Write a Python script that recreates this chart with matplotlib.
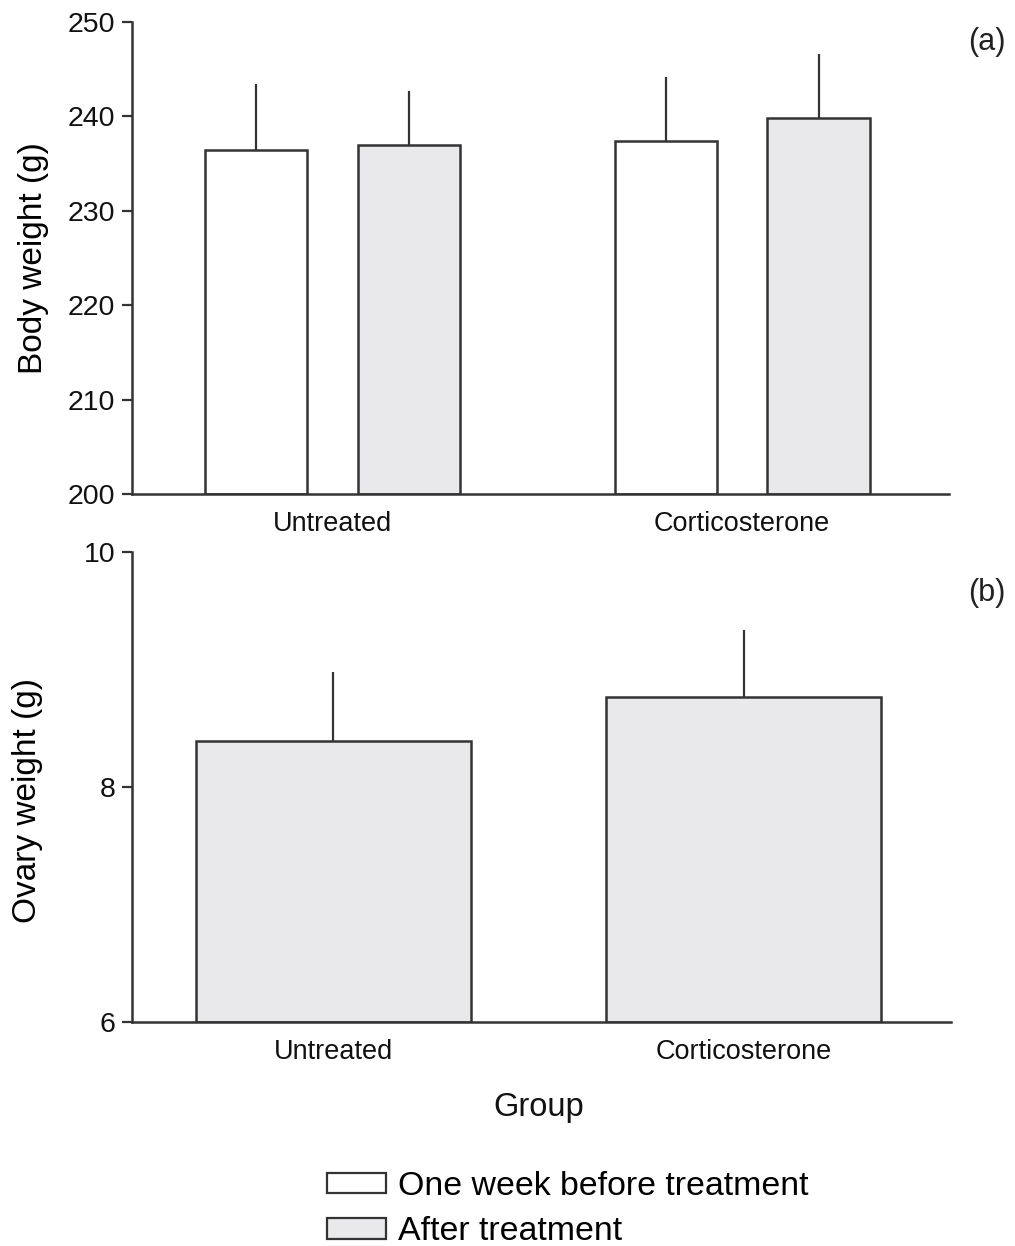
import numpy as np
import matplotlib.pyplot as plt
from matplotlib.patches import Patch

plt.rcParams['font.family'] = ['Liberation Sans', 'DejaVu Sans']

groups = ['Untreated', 'Corticosterone']

# (a) body weight, mean and upper SE
body_before = [236.4, 237.4]
body_before_err = [7.0, 6.8]
body_after = [237.0, 239.8]
body_after_err = [5.7, 6.8]

# (b) ovary weight
ovary = [8.39, 8.77]
ovary_err = [0.59, 0.57]

ink = '#333333'
grey = '#e9e8ea'

fig = plt.figure(figsize=(10.15, 12.46), dpi=100)
ax1 = fig.add_axes([0.130, 0.6035, 0.805, 0.3788])
ax2 = fig.add_axes([0.130, 0.1798, 0.807, 0.3772])

x = np.arange(len(groups))
w = 0.25
off = 0.1866

ax1.bar(x - off, [v - 200 for v in body_before], w, bottom=200, color='white',
        edgecolor=ink, linewidth=1.8, zorder=2)
ax1.bar(x + off, [v - 200 for v in body_after], w, bottom=200, color=grey,
        edgecolor=ink, linewidth=1.8, zorder=2)
ax1.errorbar(x - off, body_before, yerr=[np.zeros(2), body_before_err], fmt='none',
             ecolor=ink, elinewidth=1.6, capsize=0, zorder=1)
ax1.errorbar(x + off, body_after, yerr=[np.zeros(2), body_after_err], fmt='none',
             ecolor=ink, elinewidth=1.6, capsize=0, zorder=1)
ax1.set_ylim(200, 250)
ax1.set_yticks([200, 210, 220, 230, 240, 250])
ax1.set_ylabel('Body weight (g)', fontsize=24)
ax1.yaxis.set_label_coords(-0.102, 0.5)

ax2.bar(x, [v - 6 for v in ovary], 0.67, bottom=6, color=grey,
        edgecolor=ink, linewidth=1.8, zorder=2)
ax2.errorbar(x, ovary, yerr=[np.zeros(2), ovary_err], fmt='none',
             ecolor=ink, elinewidth=1.6, capsize=0, zorder=1)
ax2.set_ylim(6, 10)
ax2.set_yticks([6, 8, 10])
ax2.set_ylabel('Ovary weight (g)', fontsize=24)
ax2.yaxis.set_label_coords(-0.109, 0.472)

for ax in (ax1, ax2):
    ax.set_xlim(-0.49, 1.505)
    ax.set_xticks(x)
    ax.set_xticklabels(groups)
    for s in ['top', 'right']:
        ax.spines[s].set_visible(False)
    for s in ['left', 'bottom']:
        ax.spines[s].set_color(ink)
        ax.spines[s].set_linewidth(1.8)
    ax.tick_params(axis='x', length=0, pad=12, labelsize=19.5, colors='#111111')
    ax.tick_params(axis='y', direction='out', length=7, width=1.6, color=ink,
                   pad=5, labelsize=20.5, labelcolor='#111111')

fig.text(0.972, 0.966, '(a)', fontsize=22, ha='center', va='center', color='#222222')
fig.text(0.972, 0.524, '(b)', fontsize=22, ha='center', va='center', color='#222222')
fig.text(0.531, 0.111, 'Group', fontsize=23.5, ha='center', va='center', color='#111111')

handles = [Patch(facecolor='white', edgecolor=ink, linewidth=1.6),
           Patch(facecolor=grey, edgecolor=ink, linewidth=1.6)]
fig.legend(handles, ['One week before treatment', 'After treatment'],
           loc='upper left', bbox_to_anchor=(0.322, 0.0602), frameon=False,
           fontsize=24.4, handlelength=1.74, handleheight=0.56, handletextpad=0.35,
           labelspacing=0.42, borderpad=0, borderaxespad=0)

fig.savefig('out.png', dpi=100)
